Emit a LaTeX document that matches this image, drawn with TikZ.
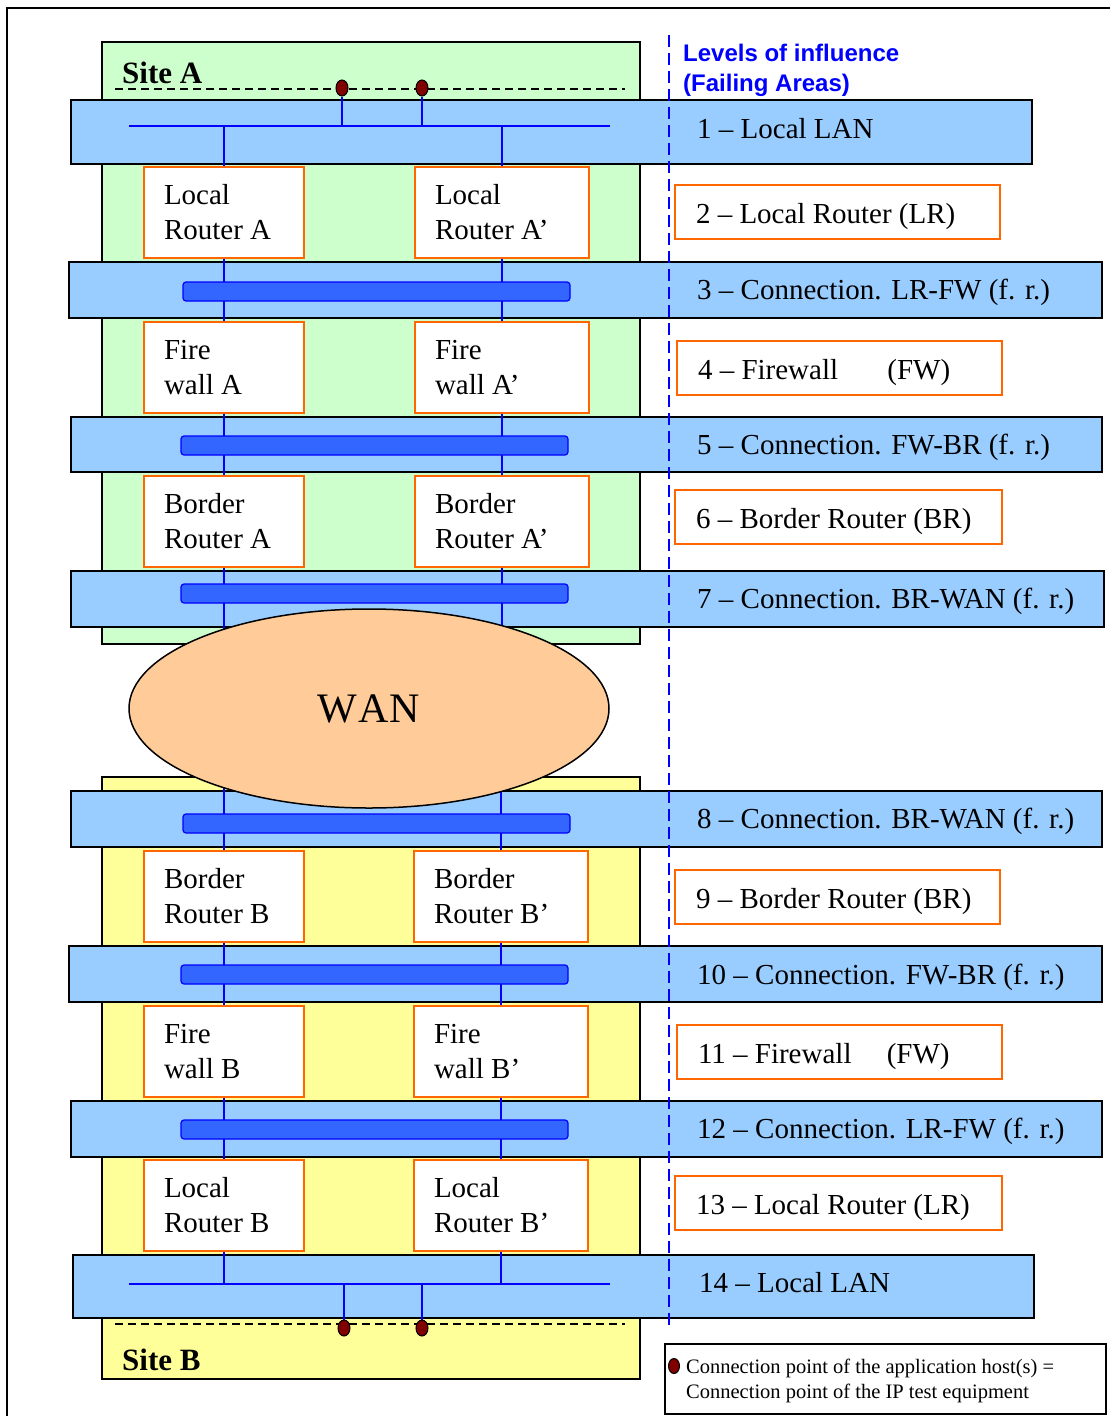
\documentclass[tikz,border=0pt]{standalone}
\usepackage{fontspec}
\setmainfont{Liberation Serif}
\newfontfamily\lsans{Liberation Sans}
\usetikzlibrary{shapes.geometric}
\definecolor{siteAc}{HTML}{CCFFCC}
\definecolor{siteBc}{HTML}{FFFF99}
\definecolor{bandc}{HTML}{99CCFF}
\definecolor{barc}{HTML}{3366FF}
\definecolor{baredge}{HTML}{0000FF}
\definecolor{orangec}{HTML}{FF6600}
\definecolor{wanc}{HTML}{FFCC99}
\definecolor{dotc}{HTML}{800000}
\definecolor{lanc}{HTML}{0000FF}
\begin{document}
\begin{tikzpicture}[x=1pt,y=-1pt,
  frameline/.style={line width=1.5pt,black},
  sitebox/.style={draw=black,line width=1.6pt,inner sep=0pt,rectangle},
  sitelabel/.style={anchor=base west,inner sep=0pt,font=\fontsize{31}{36}\selectfont\bfseries},
  band/.style={draw=black,fill=bandc,line width=1.8pt,inner sep=0pt,rectangle},
  bar/.style={draw=baredge,fill=barc,line width=1.2pt,inner sep=0pt,rounded corners=3pt,rectangle,minimum width=387pt,minimum height=19pt},
  dev/.style={draw=orangec,fill=white,line width=1.8pt,inner xsep=20pt,inner ysep=0pt,align=flush left,minimum height=91pt,font=\fontsize{29}{35}\selectfont},
  devL/.style={dev,text width=120pt},
  devR/.style={dev,text width=134pt},
  lvl/.style={draw=orangec,fill=white,line width=1.8pt,inner xsep=21pt,inner ysep=0pt,align=flush left,minimum height=54pt,text height=24pt,text depth=2pt,font=\fontsize{29}{35}\selectfont},
  bandtxt/.style={anchor=base west,inner sep=0pt,font=\fontsize{29}{35}\selectfont},
  lan/.style={draw=lanc,line width=1.8pt},
  sitedash/.style={draw=black,line width=1.5pt,dash pattern=on 8pt off 5pt},
  lvldash/.style={draw=lanc,line width=1.8pt,dash pattern=on 12pt off 6pt},
  hostdot/.style={ellipse,draw=black,fill=dotc,line width=1pt,minimum width=12pt,minimum height=16pt,inner sep=0pt},
  wanshape/.style={ellipse,draw=black,fill=wanc,line width=1.5pt,minimum width=480pt,minimum height=199pt,inner sep=0pt,font=\fontsize{42}{48}\selectfont}
]
\useasboundingbox (0,0) rectangle (1110,1416);
% outer frame
\coordinate (fr1) at (7,1416);
\coordinate (fr2) at (7,8);
\coordinate (fr3) at (1110,8);
\draw[frameline] (fr1) -- (fr2) -- (fr3);

% sites
\node[sitebox,fill=siteAc,minimum width=538pt,minimum height=602pt] (siteA) at (371,343) {};
\node[sitebox,fill=siteBc,minimum width=538pt,minimum height=602pt] (siteB) at (371,1078) {};
\node[sitelabel] (siteAl) at (122,83) {Site A};
\node[sitelabel] (siteBl) at (122,1370) {Site B};
\coordinate (dA1) at (115,89); \coordinate (dA2) at (625,89);
\coordinate (dB1) at (115,1324); \coordinate (dB2) at (625,1324);
\draw[sitedash] (dA1) -- (dA2);
\draw[sitedash] (dB1) -- (dB2);

% bands
\node[band,minimum width=961pt,minimum height=64pt] (b1) at (551.5,132) {};
\node[band,minimum width=1033pt,minimum height=56pt] (b3) at (585.5,290) {};
\node[band,minimum width=1031pt,minimum height=55pt] (b5) at (586.5,444.5) {};
\node[band,minimum width=1033pt,minimum height=56pt] (b7) at (587.5,599) {};
\node[band,minimum width=1031pt,minimum height=56pt] (b8) at (586.5,819) {};
\node[band,minimum width=1033pt,minimum height=56pt] (b10) at (585.5,974) {};
\node[band,minimum width=1031pt,minimum height=56pt] (b12) at (586.5,1129) {};
\node[band,minimum width=961pt,minimum height=63pt] (b14) at (553.5,1286.5) {};

% devices
\node[devL] (lrA) at (224,212.5) {Local\\Router A};
\node[devR] (lrAp) at (502,212.5) {Local\\Router A’};
\node[devL] (fwA) at (224,367.5) {Fire\\wall A};
\node[devR] (fwAp) at (502,367.5) {Fire\\wall A’};
\node[devL] (brA) at (224,521.5) {Border\\Router A};
\node[devR] (brAp) at (502,521.5) {Border\\Router A’};
\node[devL] (brB) at (224,896.5) {Border\\Router B};
\node[devR] (brBp) at (501,896.5) {Border\\Router B’};
\node[devL] (fwB) at (224,1051.5) {Fire\\wall B};
\node[devR] (fwBp) at (501,1051.5) {Fire\\wall B’};
\node[devL] (lrB) at (224,1205.5) {Local\\Router B};
\node[devR] (lrBp) at (501,1205.5) {Local\\Router B’};

% LANs
\coordinate (lanAl) at (129,126); \coordinate (lanAr) at (610,126);
\coordinate (lanBl) at (129,1284); \coordinate (lanBr) at (610,1284);
\draw[lan] (lanAl) -- (lanAr);
\draw[lan] (lanBl) -- (lanBr);
\draw[lan] (lrA.north) -- (lrA.north |- lanAl);
\draw[lan] (lrAp.north) -- (lrAp.north |- lanAl);
\draw[lan] (lrB.south) -- (lrB.south |- lanBl);
\draw[lan] (lrBp.south) -- (lrBp.south |- lanBl);

% vertical links
\coordinate (wanN) at (369,660);
\coordinate (wanS) at (369,760);
\draw[lan] (lrA.south) -- (fwA.north);
\draw[lan] (lrAp.south) -- (fwAp.north);
\draw[lan] (fwA.south) -- (brA.north);
\draw[lan] (fwAp.south) -- (brAp.north);
\draw[lan] (brA.south) -- (brA.south |- wanN);
\draw[lan] (brAp.south) -- (brAp.south |- wanN);
\draw[lan] (brB.north) -- (brB.north |- wanS);
\draw[lan] (brBp.north) -- (brBp.north |- wanS);
\draw[lan] (brB.south) -- (fwB.north);
\draw[lan] (brBp.south) -- (fwBp.north);
\draw[lan] (fwB.south) -- (lrB.north);
\draw[lan] (fwBp.south) -- (lrBp.north);

% bars
\node[bar] (r3) at (376.5,291.5) {};
\node[bar] (r5) at (374.5,445.5) {};
\node[bar] (r7) at (374.5,593.5) {};
\node[bar] (r8) at (376.5,823.5) {};
\node[bar] (r10) at (374.5,974.5) {};
\node[bar] (r12) at (374.5,1129.5) {};

% WAN
\node[wanshape] (wan) at (369,708.5) {W\kern1pt A\kern1pt N};

% host connection points
\node[hostdot] (hA1) at (342,88) {};
\node[hostdot] (hA2) at (422,88) {};
\node[hostdot] (hB1) at (344,1328) {};
\node[hostdot] (hB2) at (422,1328) {};
\draw[lan] (hA1.south) -- (hA1.south |- lanAl);
\draw[lan] (hA2.south) -- (hA2.south |- lanAl);
\draw[lan] (hB1.north) -- (hB1.north |- lanBl);
\draw[lan] (hB2.north) -- (hB2.north |- lanBl);

% levels divider
\coordinate (lvTop) at (669,35);
\coordinate (lvBot) at (669,1325);
\draw[lvldash] (lvTop) -- (lvBot);
\node[anchor=base west,inner sep=0pt,align=left,text=lanc,font=\lsans\bfseries\fontsize{24}{30}\selectfont] (lvlhead) at (683,91) {Levels of influence\\(Failing Areas)};

% level labels in bands
\node[bandtxt] (t1) at (697,138) {1 \textendash{} Local LAN};
\node[bandtxt] (t3) at (697,299) {3 \textendash{} Connection. LR-FW (f. r.)};
\node[bandtxt] (t5) at (697,454) {5 \textendash{} Connection. FW-BR (f. r.)};
\node[bandtxt] (t7) at (697,608) {7 \textendash{} Connection. BR-WAN (f. r.)};
\node[bandtxt] (t8) at (697,828) {8 \textendash{} Connection. BR-WAN (f. r.)};
\node[bandtxt] (t10) at (697,984) {10 \textendash{} Connection. FW-BR (f. r.)};
\node[bandtxt] (t12) at (697,1138) {12 \textendash{} Connection. LR-FW (f. r.)};
\node[bandtxt] (t14) at (699,1292) {14 \textendash{} Local LAN};

% level boxes
\node[lvl,text width=283pt] (l2) at (837.5,212) {2 \textendash{} Local Router (LR)};
\node[lvl,text width=283pt] (l4) at (839.5,368) {4 \textendash{} Firewall\hspace{42pt} (FW)};
\node[lvl,text width=285pt] (l6) at (838.5,517) {6 \textendash{} Border Router (BR)};
\node[lvl,text width=283pt] (l9) at (837.5,897) {9 \textendash{} Border Router (BR)};
\node[lvl,text width=283pt] (l11) at (839.5,1052) {11 \textendash{} Firewall\hspace{28pt} (FW)};
\node[lvl,text width=285pt] (l13) at (838.5,1203) {13 \textendash{} Local Router (LR)};

% legend
\node[draw=black,line width=1.5pt,fill=white,inner sep=0pt,minimum width=441pt,minimum height=70pt] (legend) at (885.5,1379) {};
\node[hostdot,minimum width=11pt,minimum height=15pt] (legdot) at (674,1366) {};
\node[anchor=base west,inner sep=0pt,align=left,font=\fontsize{20.5}{25}\selectfont] (legtxt) at (686,1398) {Connection point of the application host(s) =\\Connection point of the IP test equipment};
\end{tikzpicture}
\end{document}
